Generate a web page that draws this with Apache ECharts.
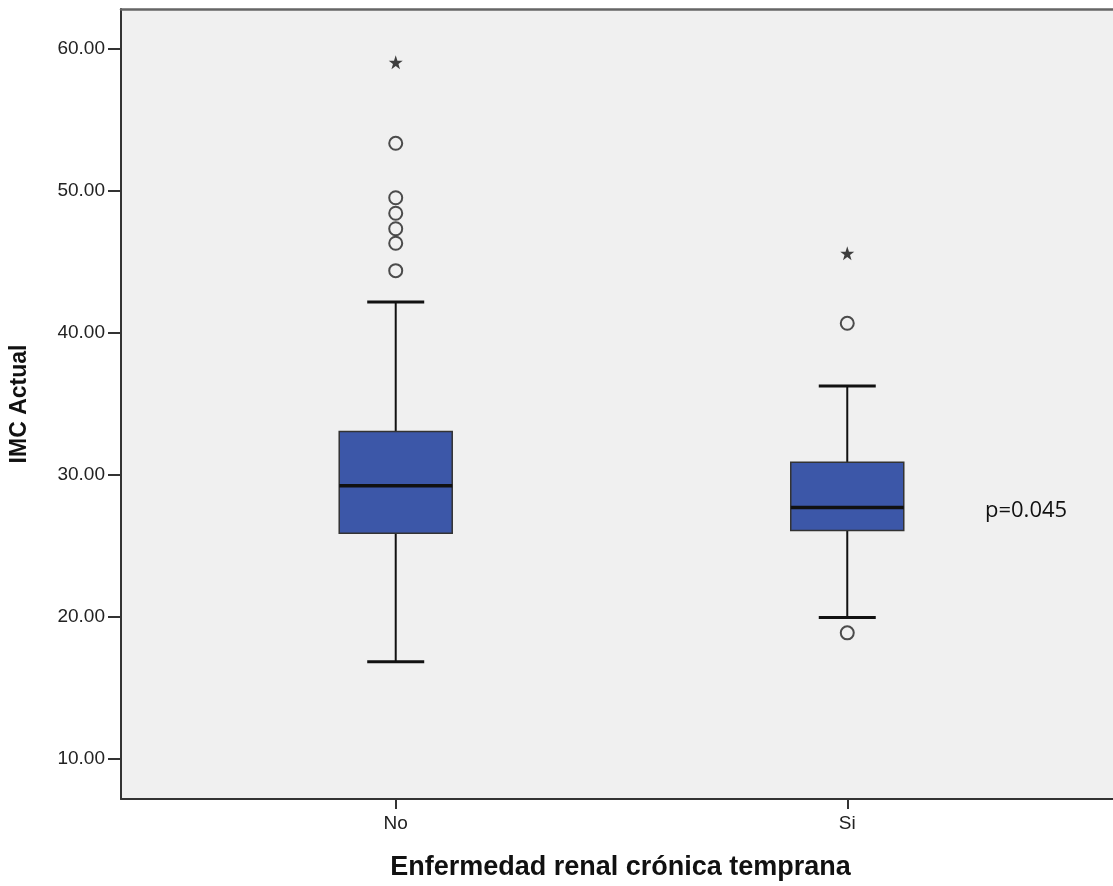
<!DOCTYPE html>
<html>
<head>
<meta charset="utf-8">
<script src="https://cdn.jsdelivr.net/npm/echarts@6/dist/echarts.min.js"></script>
<style>
html,body{margin:0;padding:0;background:#fff;}
#chart{width:1113px;height:886px;}
</style>
</head>
<body>
<div id="chart"></div>
<script>
// ---- data ----
const categories = ['No', 'Si'];
// [min whisker, Q1, median, Q3, max whisker]
const boxNo = [16.84, 25.89, 29.22, 33.04, 42.16];
const boxSi = [19.96, 26.08, 27.69, 30.89, 36.25];
// outliers (circles)
const outliersNo = [53.32, 49.49, 48.40, 47.31, 46.29, 44.36];
const outliersSi = [40.66, 18.88];
// extreme values (stars)
const extremesNo = [59.02];
const extremesSi = [45.58];
const yTicks = [10, 20, 30, 40, 50, 60];
const xTicks = [0, 1];
const pText = 'p=0.045';

// ---- build series data ----
const boxData = [[0].concat(boxNo), [1].concat(boxSi)];
const circleData = outliersNo.map(v => [0, v]).concat(outliersSi.map(v => [1, v]));
const starData = extremesNo.map(v => [0, v]).concat(extremesSi.map(v => [1, v]));

const BOX_W = 113, CAP_W = 57;
const X_MIN = -0.6084, X_MAX = 1.5885;
const starPath = 'path://M50,0 L61.8,35.1 L98.1,35.1 L68.8,56.8 L79.4,91 L50,70 L20.6,91 L31.2,56.8 L1.9,35.1 L38.2,35.1 Z';

const chart = echarts.init(document.getElementById('chart'), null, {renderer: 'canvas'});
chart.setOption({
  animation: false,
  backgroundColor: '#ffffff',
  title: {
    text: pText,
    left: 985, top: 500, padding: 0,
    textStyle: {fontFamily: 'Open Sans', fontSize: 22, fontWeight: 'normal', color: '#111'}
  },
  grid: {
    left: 120, top: 9, width: 993, bottom: 87,
    show: true, backgroundColor: '#F0F0F0', borderWidth: 0
  },
  xAxis: [{
    type: 'value', min: X_MIN, max: X_MAX, position: 'bottom',
    splitLine: {show: false},
    axisLine: {show: true, onZero: false, lineStyle: {color: '#333', width: 2}},
    axisTick: {show: true, customValues: xTicks, length: 10, lineStyle: {color: '#333', width: 2}},
    axisLabel: {customValues: xTicks, formatter: v => categories[Math.round(v)], margin: 15,
      fontFamily: 'Liberation Sans', fontSize: 19, color: '#222'},
    name: 'Enfermedad renal crónica temprana', nameLocation: 'middle', nameGap: 55,
    nameTextStyle: {fontFamily: 'Liberation Sans', fontWeight: 'bold', fontSize: 27, color: '#111',
      padding: [0, 0, 0, 7]}
  }, {
    type: 'value', min: X_MIN, max: X_MAX, position: 'top',
    splitLine: {show: false},
    axisLine: {show: true, onZero: false, lineStyle: {color: '#666', width: 2.5}},
    axisTick: {show: false},
    axisLabel: {show: false}
  }],
  yAxis: {
    type: 'value', min: 7.19, max: 62.77,
    splitLine: {show: false},
    axisLine: {show: true, onZero: false, lineStyle: {color: '#333', width: 2}},
    axisTick: {show: true, customValues: yTicks, length: 13, lineStyle: {color: '#333', width: 2}},
    axisLabel: {customValues: yTicks, formatter: v => v.toFixed(2), margin: 16,
      fontFamily: 'Liberation Sans', fontSize: 19, color: '#222'},
    name: 'IMC Actual', nameLocation: 'middle', nameGap: 90,
    nameTextStyle: {fontFamily: 'Liberation Sans', fontWeight: 'bold', fontSize: 23, color: '#111'}
  },
  series: [
    {
      type: 'custom',
      xAxisIndex: 0,
      data: boxData,
      encode: {x: 0, y: [1, 2, 3, 4, 5]},
      renderItem: function (params, api) {
        const x = api.value(0);
        const pLo = api.coord([x, api.value(1)]);
        const pQ1 = api.coord([x, api.value(2)]);
        const pMed = api.coord([x, api.value(3)]);
        const pQ3 = api.coord([x, api.value(4)]);
        const pHi = api.coord([x, api.value(5)]);
        const cx = pMed[0];
        const line = (x1, y1, x2, y2, w) => ({
          type: 'line', shape: {x1, y1, x2, y2},
          style: {stroke: '#111', lineWidth: w}
        });
        return {
          type: 'group',
          children: [
            line(cx, pHi[1], cx, pQ3[1], 2),
            line(cx, pLo[1], cx, pQ1[1], 2),
            line(cx - CAP_W / 2, pHi[1], cx + CAP_W / 2, pHi[1], 3),
            line(cx - CAP_W / 2, pLo[1], cx + CAP_W / 2, pLo[1], 3),
            {
              type: 'rect',
              shape: {x: cx - BOX_W / 2, y: pQ3[1], width: BOX_W, height: pQ1[1] - pQ3[1]},
              style: {fill: '#3C57A8', stroke: '#333', lineWidth: 1.5}
            },
            line(cx - BOX_W / 2, pMed[1], cx + BOX_W / 2, pMed[1], 3.5)
          ]
        };
      }
    },
    {
      type: 'scatter',
      xAxisIndex: 0,
      data: circleData,
      symbol: 'circle', symbolSize: 13,
      itemStyle: {color: 'rgba(0,0,0,0)', borderColor: '#222', borderWidth: 2}
    },
    {
      type: 'scatter',
      xAxisIndex: 0,
      data: starData,
      symbol: starPath, symbolSize: 14,
      itemStyle: {color: '#111'}
    }
  ]
});
</script>
</body>
</html>
